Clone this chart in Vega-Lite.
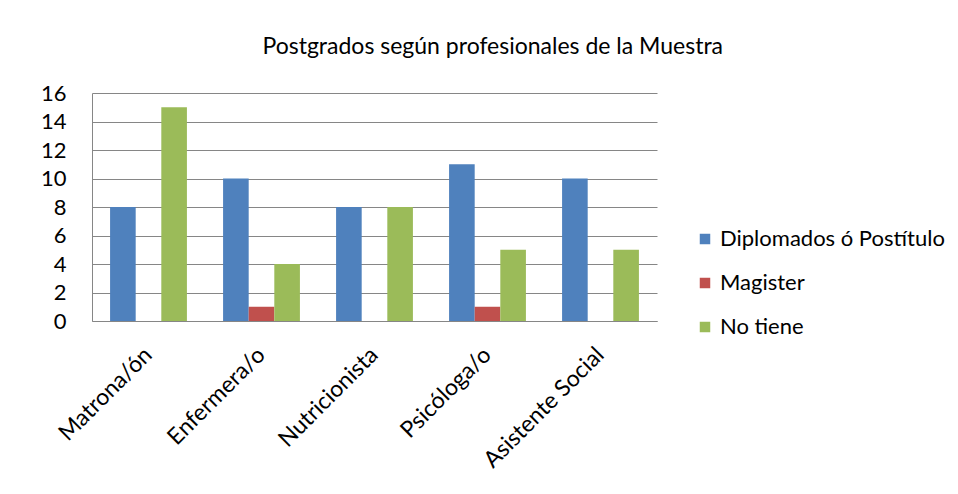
{
  "$schema": "https://vega.github.io/schema/vega-lite/v6.json",
  "width": 565,
  "height": 228,
  "autosize": {"type": "none"},
  "padding": {"left": 92, "top": 93, "right": 301, "bottom": 173},
  "background": "white",
  "title": {
    "text": "Postgrados según profesionales de la Muestra",
    "font": "Lato",
    "fontSize": 23,
    "fontWeight": "normal",
    "color": "black",
    "anchor": "middle",
    "frame": "bounds",
    "offset": 23
  },
  "data": {
    "values": [
      {"profesion": "Matrona/ón", "tipo": "Diplomados ó Postítulo", "n": 8},
      {"profesion": "Matrona/ón", "tipo": "Magister", "n": 0},
      {"profesion": "Matrona/ón", "tipo": "No tiene", "n": 15},
      {"profesion": "Enfermera/o", "tipo": "Diplomados ó Postítulo", "n": 10},
      {"profesion": "Enfermera/o", "tipo": "Magister", "n": 1},
      {"profesion": "Enfermera/o", "tipo": "No tiene", "n": 4},
      {"profesion": "Nutricionista", "tipo": "Diplomados ó Postítulo", "n": 8},
      {"profesion": "Nutricionista", "tipo": "Magister", "n": 0},
      {"profesion": "Nutricionista", "tipo": "No tiene", "n": 8},
      {"profesion": "Psicóloga/o", "tipo": "Diplomados ó Postítulo", "n": 11},
      {"profesion": "Psicóloga/o", "tipo": "Magister", "n": 1},
      {"profesion": "Psicóloga/o", "tipo": "No tiene", "n": 5},
      {"profesion": "Asistente Social", "tipo": "Diplomados ó Postítulo", "n": 10},
      {"profesion": "Asistente Social", "tipo": "Magister", "n": 0},
      {"profesion": "Asistente Social", "tipo": "No tiene", "n": 5}
    ]
  },
  "mark": {"type": "bar"},
  "encoding": {
    "x": {
      "field": "profesion",
      "type": "nominal",
      "sort": null,
      "title": null,
      "scale": {"paddingInner": 0.32, "paddingOuter": 0.16},
      "axis": {
        "labelAngle": -45,
        "labelAlign": "right",
        "labelBaseline": "middle",
        "labelFont": "Lato",
        "labelFontSize": 23,
        "labelColor": "black",
        "labelPadding": 30,
        "labelLimit": 300,
        "ticks": false,
        "domainColor": "#868686",
        "grid": false
      }
    },
    "xOffset": {"field": "tipo", "type": "nominal", "scale": {"paddingInner": 0, "paddingOuter": 0}},
    "y": {
      "field": "n",
      "type": "quantitative",
      "title": null,
      "scale": {"domain": [0, 16], "nice": false},
      "axis": {
        "values": [0, 2, 4, 6, 8, 10, 12, 14, 16],
        "labelFont": "Lato",
        "labelFontSize": 22,
        "labelColor": "black",
        "labelPadding": 26,
        "ticks": false,
        "domainColor": "#868686",
        "gridColor": "#868686",
        "gridWidth": 1
      }
    },
    "color": {
      "field": "tipo",
      "type": "nominal",
      "title": null,
      "scale": {
        "domain": ["Diplomados ó Postítulo", "Magister", "No tiene"],
        "range": ["#4F81BD", "#C0504D", "#9BBB59"]
      },
      "legend": {
        "orient": "none",
        "legendX": 602,
        "legendY": 135,
        "symbolType": "square",
        "symbolSize": 110,
        "symbolStrokeWidth": 0,
        "symbolOpacity": 1,
        "labelFont": "Lato",
        "labelFontSize": 22,
        "labelColor": "black",
        "labelLimit": 400,
        "rowPadding": 22,
        "labelOffset": 4
      }
    }
  },
  "config": {
    "view": {"stroke": null}
  }
}
